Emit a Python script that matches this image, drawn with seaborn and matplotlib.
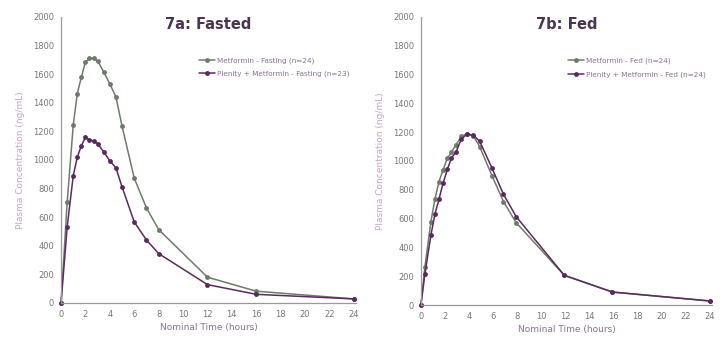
import pandas as pd
import numpy as np
import matplotlib.pyplot as plt
import seaborn as sns

# fasted study (7a)
time_fasted = [0, 0.5, 1, 1.33, 1.67, 2, 2.33, 2.67, 3, 3.5, 4, 4.5, 5, 6, 7, 8, 12, 16, 24]
met_fasting = [0, 704, 1245, 1464, 1580, 1685, 1711, 1709, 1692, 1615, 1531, 1440, 1235,
               872, 664, 513, 180, 82, 28]
plenity_fasting = [0, 531, 890, 1019, 1100, 1158, 1142, 1131, 1112, 1056, 993, 944, 811,
                   566, 440, 345, 128, 60, 28]

# fed study (7b)
time_fed = [0, 0.33, 0.83, 1.16, 1.5, 1.84, 2.2, 2.53, 2.9, 3.36, 3.83, 4.35, 4.87,
            5.9, 6.85, 7.9, 11.9, 15.9, 24]
met_fed = [0, 266, 579, 735, 857, 939, 1020, 1059, 1112, 1170, 1189, 1175, 1100,
           897, 718, 572, 206, 90, 28]
plenity_fed = [0, 215, 487, 630, 735, 846, 943, 1020, 1061, 1152, 1187, 1177, 1138,
               950, 769, 614, 206, 90, 28]

green = "#6d7b6b"
purple = "#5a2a5c"

sns.set_style("white")
plt.rcParams['font.family'] = ['DejaVu Sans']

fig = plt.figure(figsize=(7.27, 3.51), dpi=100)
ax1 = fig.add_axes([0.084, 0.137, 0.406, 0.815])
ax2 = fig.add_axes([0.579, 0.131, 0.401, 0.821])


def draw(ax, t, a, b, la, lb, title):
    df = pd.DataFrame({
        "time": t + t,
        "conc": a + b,
        "group": [la] * len(t) + [lb] * len(t),
    })
    sns.lineplot(data=df, x="time", y="conc", hue="group", palette=[green, purple],
                 marker="o", markersize=3.5, markeredgewidth=0, linewidth=1.1,
                 ax=ax, clip_on=False)
    ax.set_xlim(0, 24.2)
    ax.set_ylim(0, 2000)
    ax.set_xticks(np.arange(0, 25, 2))
    ax.set_yticks(np.arange(0, 2001, 200))
    ax.tick_params(axis="both", length=0, labelsize=6, colors="#777777", pad=5)
    for s in ["top", "right"]:
        ax.spines[s].set_visible(False)
    for s in ["left", "bottom"]:
        ax.spines[s].set_color("#999999")
        ax.spines[s].set_linewidth(0.9)
    ax.set_title(title, fontsize=10.5, fontweight="bold", color="#4a3550", y=0.93)
    ax.set_xlabel("Nominal Time (hours)", fontsize=6.5, color="#8a7290", labelpad=3)
    ax.set_ylabel("Plasma Concentration (ng/mL)", fontsize=6.5, color="#c9a3c7", labelpad=6)
    leg = ax.legend(loc="upper right", bbox_to_anchor=(1.0, 0.88), frameon=False,
                    fontsize=5.2, handlelength=2.2, handletextpad=0.3, labelspacing=0.9)
    for txt in leg.get_texts():
        txt.set_color("#8a7290")


draw(ax1, time_fasted, met_fasting, plenity_fasting,
     "Metformin - Fasting (n=24)", "Plenity + Metformin - Fasting (n=23)", "7a: Fasted")
draw(ax2, time_fed, met_fed, plenity_fed,
     "Metformin - Fed (n=24)", "Plenity + Metformin - Fed (n=24)", "7b: Fed")

fig.savefig("out.png", dpi=100)
